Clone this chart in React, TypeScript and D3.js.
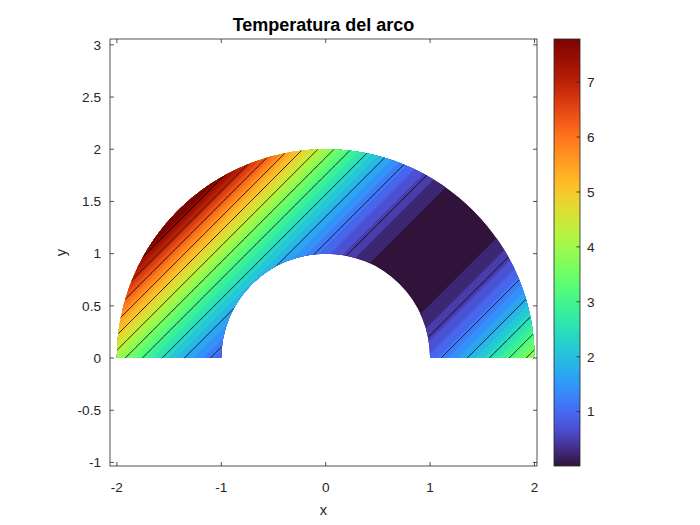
import React, { useMemo } from 'react';
import * as d3 from 'd3';

// ---------- data ----------
const xTicks = [-2, -1, 0, 1, 2];
const yTicks = [-1, -0.5, 0, 0.5, 1, 1.5, 2, 2.5, 3];
const colorTicks = [1, 2, 3, 4, 5, 6, 7];
const arcRadii = [1, 2]; // inner, outer radius of the arch
// temperature profile across the diagonal (x - y) direction
const diagonalOffset = [-2.9, -2.75, -2.5, -2.25, -2.0, -1.75, -1.5, -1.25, -1.0, -0.75, -0.5, -0.25, 0, 0.25, 0.5, 0.75, 1.0, 1.25, 1.5, 1.75, 2.0, 2.1];
const temperatureProfile = [8.41, 7.56, 6.25, 5.06, 4.0, 3.06, 2.25, 1.56, 1.0, 0.56, 0.25, 0.06, 0.01, 0.06, 0.25, 0.56, 1.0, 1.56, 2.25, 3.06, 4.0, 4.41];
const colorRange = [0.011, 7.785];
const contourLevels = [0.617, 1.233, 1.85, 2.466, 3.083, 3.7, 4.316, 4.933, 5.549, 6.166, 6.783, 7.399];
const colorBandCount = 34;

// ---------- layout ----------
const W = 700, H = 525;
const box = { left: 110, right: 537, top: 39, bottom: 466 };
const cbar = { left: 554, right: 580, top: 39, bottom: 466 };
const axisColor = '#262626';
const font = '"Liberation Sans", Arial, Helvetica, sans-serif';

const turboStart = '#30123b';
const turboEnd = '#7a0403';
function cmap(t: number): string {
  t = Math.max(0, Math.min(1, t));
  if (t < 0.06) return d3.interpolateRgb(turboStart, d3.interpolateTurbo(0.06))(t / 0.06);
  if (t > 0.94) return d3.interpolateRgb(d3.interpolateTurbo(0.94), turboEnd)((t - 0.94) / 0.06);
  return d3.interpolateTurbo(t);
}

export default function App() {
  const x = d3.scaleLinear().domain([-2.066, 2.024]).range([box.left, box.right]);
  const y = d3.scaleLinear().domain([-1.034, 3.056]).range([box.bottom, box.top]);
  const c = d3.scaleLinear().domain(colorRange).range([cbar.bottom, cbar.top]);

  const { bandPaths, linePaths, arcPath } = useMemo(() => {
    const field = d3.scaleLinear().domain(diagonalOffset).range(temperatureProfile).clamp(true);
    const step = 0.01;
    const gx0 = -2.12, gy0 = -0.1;
    const nx = Math.round(4.24 / step) + 1;
    const ny = Math.round(2.22 / step) + 1;
    const values = new Float64Array(nx * ny);
    for (let j = 0; j < ny; j++) {
      const yy = gy0 + j * step;
      for (let i = 0; i < nx; i++) {
        const xx = gx0 + i * step;
        values[j * nx + i] = field(xx - yy);
      }
    }
    const proj = d3.geoTransform({
      point(px: number, py: number) {
        // @ts-ignore
        this.stream.point(x(gx0 + (px - 0.5) * step), y(gy0 + (py - 0.5) * step));
      },
    });
    const path = d3.geoPath(proj);
    const w = (colorRange[1] - colorRange[0]) / colorBandCount;
    const thresholds = d3.range(1, colorBandCount).map((k) => colorRange[0] + k * w);
    const gen = d3.contours().size([nx, ny]).thresholds(thresholds);
    const bands = gen(Array.from(values)).map((g, k) => ({
      d: path(g as any) || '',
      fill: cmap((k + 1) / (colorBandCount - 1)),
    }));
    const lines = d3
      .contours()
      .size([nx, ny])
      .thresholds(contourLevels)(Array.from(values))
      .map((g) => path(g as any) || '');
    const r0 = x(arcRadii[0]) - x(0);
    const r1 = x(arcRadii[1]) - x(0);
    const arc = d3.arc()({
      innerRadius: r0,
      outerRadius: r1,
      startAngle: -Math.PI / 2,
      endAngle: Math.PI / 2,
    } as any) as string;
    return { bandPaths: bands, linePaths: lines, arcPath: arc };
  }, []);

  const gradStops = d3.range(0, 65).map((i) => i / 64);
  const tickLen = 4;

  return (
    <svg width={W} height={H} style={{ display: 'block', position: 'absolute', left: 0, top: 0 }} fontFamily={font}>
      <defs>
        <clipPath id="arch">
          <path d={arcPath} transform={`translate(${x(0)},${y(0)})`} />
        </clipPath>
        <linearGradient id="cbgrad" x1="0" y1="1" x2="0" y2="0">
          {gradStops.map((t) => (
            <stop key={t} offset={t} stopColor={cmap(t)} />
          ))}
        </linearGradient>
      </defs>
      <rect x={0} y={0} width={W} height={H} fill="#fff" />

      {/* filled field */}
      <g clipPath="url(#arch)">
        <path d={arcPath} transform={`translate(${x(0)},${y(0)})`} fill={cmap(0)} />
        {bandPaths.map((b, i) => (
          <path key={i} d={b.d} fill={b.fill} stroke="none" />
        ))}
        {linePaths.map((d, i) => (
          <path key={'l' + i} d={d} fill="none" stroke="#000" strokeWidth={0.9} />
        ))}
      </g>

      {/* axes box */}
      <rect x={box.left} y={box.top} width={box.right - box.left} height={box.bottom - box.top} fill="none" stroke={axisColor} strokeWidth={0.8} />
      {xTicks.map((t) => (
        <g key={'xt' + t}>
          <line x1={x(t)} x2={x(t)} y1={box.bottom} y2={box.bottom - tickLen} stroke={axisColor} strokeWidth={0.8} />
          <line x1={x(t)} x2={x(t)} y1={box.top} y2={box.top + tickLen} stroke={axisColor} strokeWidth={0.8} />
          <text x={x(t)} y={box.bottom + 26} textAnchor="middle" fontSize={13.6} fill={axisColor}>{t}</text>
        </g>
      ))}
      {yTicks.map((t) => (
        <g key={'yt' + t}>
          <line x1={box.left} x2={box.left + tickLen} y1={y(t)} y2={y(t)} stroke={axisColor} strokeWidth={0.8} />
          <line x1={box.right} x2={box.right - tickLen} y1={y(t)} y2={y(t)} stroke={axisColor} strokeWidth={0.8} />
          <text x={box.left - 9} y={y(t)} dy="0.35em" textAnchor="end" fontSize={13.6} fill={axisColor}>{t}</text>
        </g>
      ))}
      <text x={(box.left + box.right) / 2} y={515} textAnchor="middle" fontSize={14.67} fill={axisColor}>x</text>
      <text transform={`translate(66,${(box.top + box.bottom) / 2}) rotate(-90)`} textAnchor="middle" fontSize={14.67} fill={axisColor}>y</text>
      <text x={(box.left + box.right) / 2} y={31} textAnchor="middle" fontSize={18} fontWeight="bold" fill="#000">Temperatura del arco</text>

      {/* colorbar */}
      <rect x={cbar.left} y={cbar.top} width={cbar.right - cbar.left} height={cbar.bottom - cbar.top} fill="url(#cbgrad)" stroke={axisColor} strokeWidth={0.8} />
      {colorTicks.map((t) => (
        <g key={'ct' + t}>
          <line x1={cbar.right} x2={cbar.right - 3.5} y1={c(t)} y2={c(t)} stroke={axisColor} strokeWidth={0.8} />
          <text x={cbar.right + 7} y={c(t)} dy="0.35em" textAnchor="start" fontSize={13.6} fill={axisColor}>{t}</text>
        </g>
      ))}
    </svg>
  );
}
